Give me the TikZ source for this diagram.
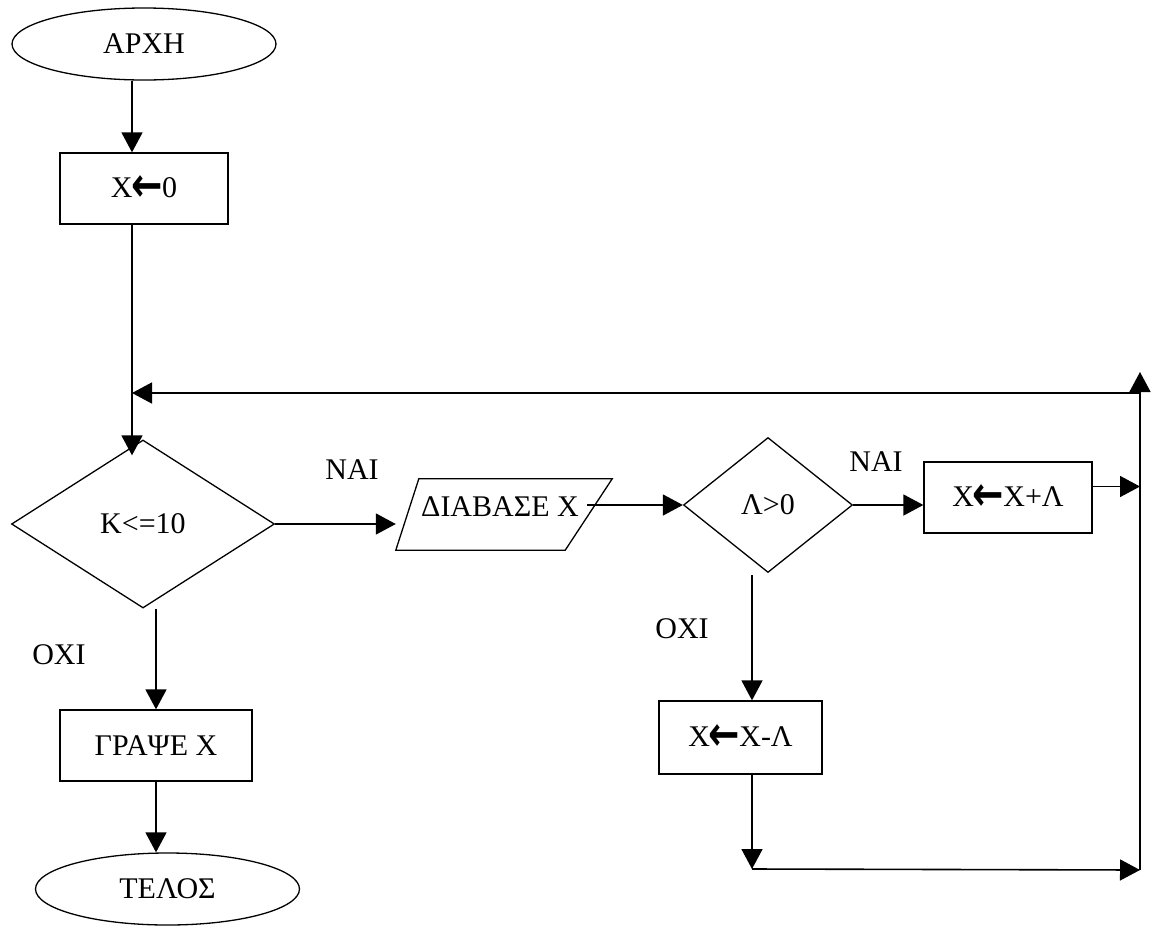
\documentclass[tikz,border=0pt]{standalone}
\usepackage{fontspec}
\setmainfont{Liberation Serif}
\newfontfamily\arrowfont{DejaVu Sans}
\newcommand{\assignarrow}{\kern-1pt\raisebox{-4pt}{\scalebox{1.25}[1.6]{\arrowfont\bfseries ←}}\kern-1pt}
\usetikzlibrary{positioning,calc,shapes.geometric,arrows.meta}

\begin{document}
\begin{tikzpicture}[
						x=1pt, y=-1pt,
						every node/.style={
							font=\fontsize{30}{36}\selectfont, inner sep=0pt
						},
						% start / end
						term/.style={
							ellipse, draw, line width=1.3pt,
							minimum width=264pt, minimum height=72pt
						},
						% process boxes
						proc/.style={
							rectangle, draw, line width=1.3pt,
							minimum width=168pt, minimum height=71pt
						},
						% decisions
						cond/.style={
							diamond, draw, line width=1.3pt
						},
						flow/.style={
							-{Triangle[length=20pt,width=21pt]}, line width=1.6pt
						}
						]
						\useasboundingbox (0,0) rectangle (1160,927);
						
						\node[term] (start) at (144,44) {ΑΡΧΗ};
						\node[proc] (init) at (144,188.5) {X\assignarrow 0};
						\node[cond, minimum width=263pt, minimum height=168pt] (cond1) at (143,524) {Κ<=10};
						
						% parallelogram: drawn around an empty frame
						\node[minimum width=216pt, minimum height=71pt] (read) at (504,514.5) {};
						\node (readtxt) at (500,507) {ΔΙΑΒΑΣΕ Χ};
						\draw[line width=1.3pt] (read.south west) -- ($(read.north west)+(23,0)$)
						-- (read.north east) -- ($(read.south east)+(-47,0)$) -- cycle;
						
						\node[cond, minimum width=169pt, minimum height=135pt] (cond2) at (768,505) {Λ>0};
						\node[proc] (plus) at (1008,497.5) {X\assignarrow X+Λ};
						\node[proc, minimum width=163pt, minimum height=73pt] (minus) at (740.5,737.5) {X\assignarrow X-Λ};
						\node[proc, minimum width=192pt] (print) at (156,745.5) {ΓΡΑΨΕ Χ};
						\node[term] (stop) at (167.5,889) {ΤΕΛΟΣ};
						
						% labels
						\node (yes1) at (352,470) {ΝΑΙ};
						\node (yes2) at (876,462) {ΝΑΙ};
						\node (no1) at (59,655) {ΟΧΙ};
						\node (no2) at (682,629) {ΟΧΙ};
						
						% loop points
						\coordinate (loopIn) at (132,393);
						\coordinate (loopRight) at (1140,393);
						\coordinate (loopTop) at (1140,372);
						\coordinate (loopBottom) at (1140,870);
						\coordinate (minusOut) at (752,869);
						\coordinate (plusOut) at ($(plus.east)+(0,-11)$);
						\coordinate (readOut) at ($(read.east |- cond2)+(-25,0)$);
						
						% connectors
						\draw[flow] (start.south -| loopIn) -- (init.north -| loopIn);
						\draw[flow] (init.south -| loopIn) -- ($(cond1.north -| loopIn)+(0,16)$);
						\draw[flow] (cond1.east) -- (read.west |- cond1.east);
						\draw[flow] (readOut) -- (cond2.west);
						\draw[flow] (cond2.east) -- (plus.west |- cond2.east);
						\draw[flow] (plusOut) -- (plusOut -| loopTop);
						\draw[flow] ($(cond2.south -| minusOut)+(0,2)$) -- (minus.north -| minusOut);
						\draw[flow] (minus.south -| minusOut) -- (minusOut);
						\draw[flow] (minusOut) -- (loopBottom);
						\draw[flow] (loopBottom) -- (loopTop);
						\draw[flow] (loopRight) -- (loopIn);
						\draw[flow] (cond1.south -| print) -- (print.north);
						\draw[flow] (print.south) -- (stop.north -| print);
						
					\end{tikzpicture}
\end{document}
